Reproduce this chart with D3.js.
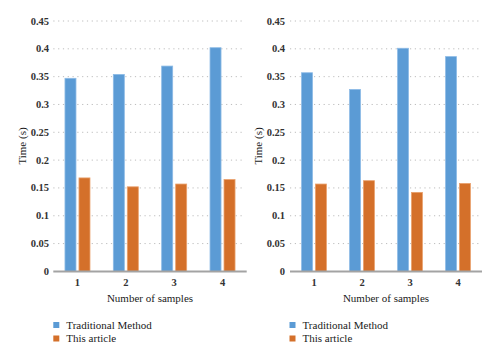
<!DOCTYPE html>
<html>
<head>
<meta charset="utf-8">
<script src="https://cdn.jsdelivr.net/npm/d3@7"></script>
<style>
  html, body { margin: 0; padding: 0; background: #fff; }
  svg { display: block; }
</style>
</head>
<body>
<svg id="chart" width="500" height="360"></svg>
<script>
const categories = ["1", "2", "3", "4"];
const seriesNames = ["Traditional Method", "This article"];
const leftTraditional = [0.347, 0.354, 0.369, 0.402];
const leftThisArticle = [0.168, 0.152, 0.157, 0.165];
const rightTraditional = [0.357, 0.327, 0.401, 0.386];
const rightThisArticle = [0.157, 0.163, 0.142, 0.158];
const yTickValues = [0, 0.05, 0.1, 0.15, 0.2, 0.25, 0.3, 0.35, 0.4, 0.45];
const yTickLabels = ["0", "0.05", "0.1", "0.15", "0.2", "0.25", "0.3", "0.35", "0.4", "0.45"];
const xTitle = "Number of samples";
const yTitle = "Time (s)";
const colors = ["#5B9BD5", "#D4702A"];
const strokes = ["#8DBBE6", "#E9A06C"];
const FONT = "'Liberation Serif', 'Times New Roman', Times, 'DejaVu Serif', serif";

const svg = d3.select("#chart").attr("font-family", FONT);
const y = d3.scaleLinear().domain([0, 0.45]).range([271.4, 21]);

function panel(x0, x1, trad, art, labelX, titleX, legendX) {
  const g = svg.append("g").attr("font-family", FONT);
  const x = d3.scaleBand().domain(categories).range([x0, x1]).paddingInner(0).paddingOuter(0);
  const xs = d3.scaleBand().domain([0, 1]).range([0, x.bandwidth()]).paddingInner(0.214).paddingOuter(0.834);

  g.selectAll("line.grid").data(yTickValues.filter(v => v > 0)).enter().append("line")
    .attr("x1", x0).attr("x2", x1 - 3)
    .attr("y1", d => y(d)).attr("y2", d => y(d))
    .attr("stroke", "#BDBDBD").attr("stroke-width", 1)
    .attr("stroke-dasharray", "1.2,3.6");

  g.selectAll("text.ytick").data(yTickValues).enter().append("text")
    .attr("x", labelX).attr("y", d => y(d) + 3.5)
    .attr("text-anchor", "end").attr("font-size", 10.5).attr("font-weight", "bold")
    .attr("font-family", FONT).attr("fill", "#333")
    .text((d, i) => yTickLabels[i]);

  const rows = categories.map((c, i) => ({ c, vals: [trad[i], art[i]] }));
  const grp = g.selectAll("g.cat").data(rows).enter().append("g")
    .attr("transform", d => `translate(${x(d.c)},0)`);
  grp.selectAll("rect").data(d => d.vals.map((v, k) => ({ v, k }))).enter().append("rect")
    .attr("x", d => xs(d.k)).attr("width", xs.bandwidth())
    .attr("y", d => y(d.v)).attr("height", d => y(0) - y(d.v))
    .attr("fill", d => colors[d.k])
    .attr("stroke", d => strokes[d.k]).attr("stroke-width", 0.8);

  g.append("line").attr("x1", x0).attr("x2", x1).attr("y1", y(0)).attr("y2", y(0))
    .attr("stroke", "#A3A3A3").attr("stroke-width", 2);

  g.selectAll("text.xtick").data(categories).enter().append("text")
    .attr("x", d => x(d) + x.bandwidth() / 2).attr("y", 285.5)
    .attr("text-anchor", "middle").attr("font-size", 10.5).attr("font-weight", "bold")
    .attr("font-family", FONT).attr("fill", "#333")
    .text(d => d);

  g.append("text").attr("x", (x0 + x1) / 2).attr("y", 302)
    .attr("text-anchor", "middle").attr("font-size", 11)
    .attr("font-family", FONT).attr("fill", "#1a1a1a")
    .text(xTitle);

  g.append("text").attr("transform", `translate(${titleX},146) rotate(-90)`)
    .attr("text-anchor", "middle").attr("font-size", 11)
    .attr("font-family", FONT).attr("fill", "#1a1a1a")
    .text(yTitle);

  seriesNames.forEach((name, i) => {
    const ly = 325 + i * 13.5;
    g.append("rect").attr("x", legendX).attr("y", ly - 3).attr("width", 6).attr("height", 6)
      .attr("fill", colors[i]);
    g.append("text").attr("x", legendX + 13).attr("y", ly + 3.5)
      .attr("font-size", 11).attr("font-family", FONT).attr("fill", "#1a1a1a").text(name);
  });
}

panel(53.3, 246.7, leftTraditional, leftThisArticle, 49, 25.5, 53.3);
panel(290, 482, rightTraditional, rightThisArticle, 285, 261.5, 289.5);
</script>
</body>
</html>
